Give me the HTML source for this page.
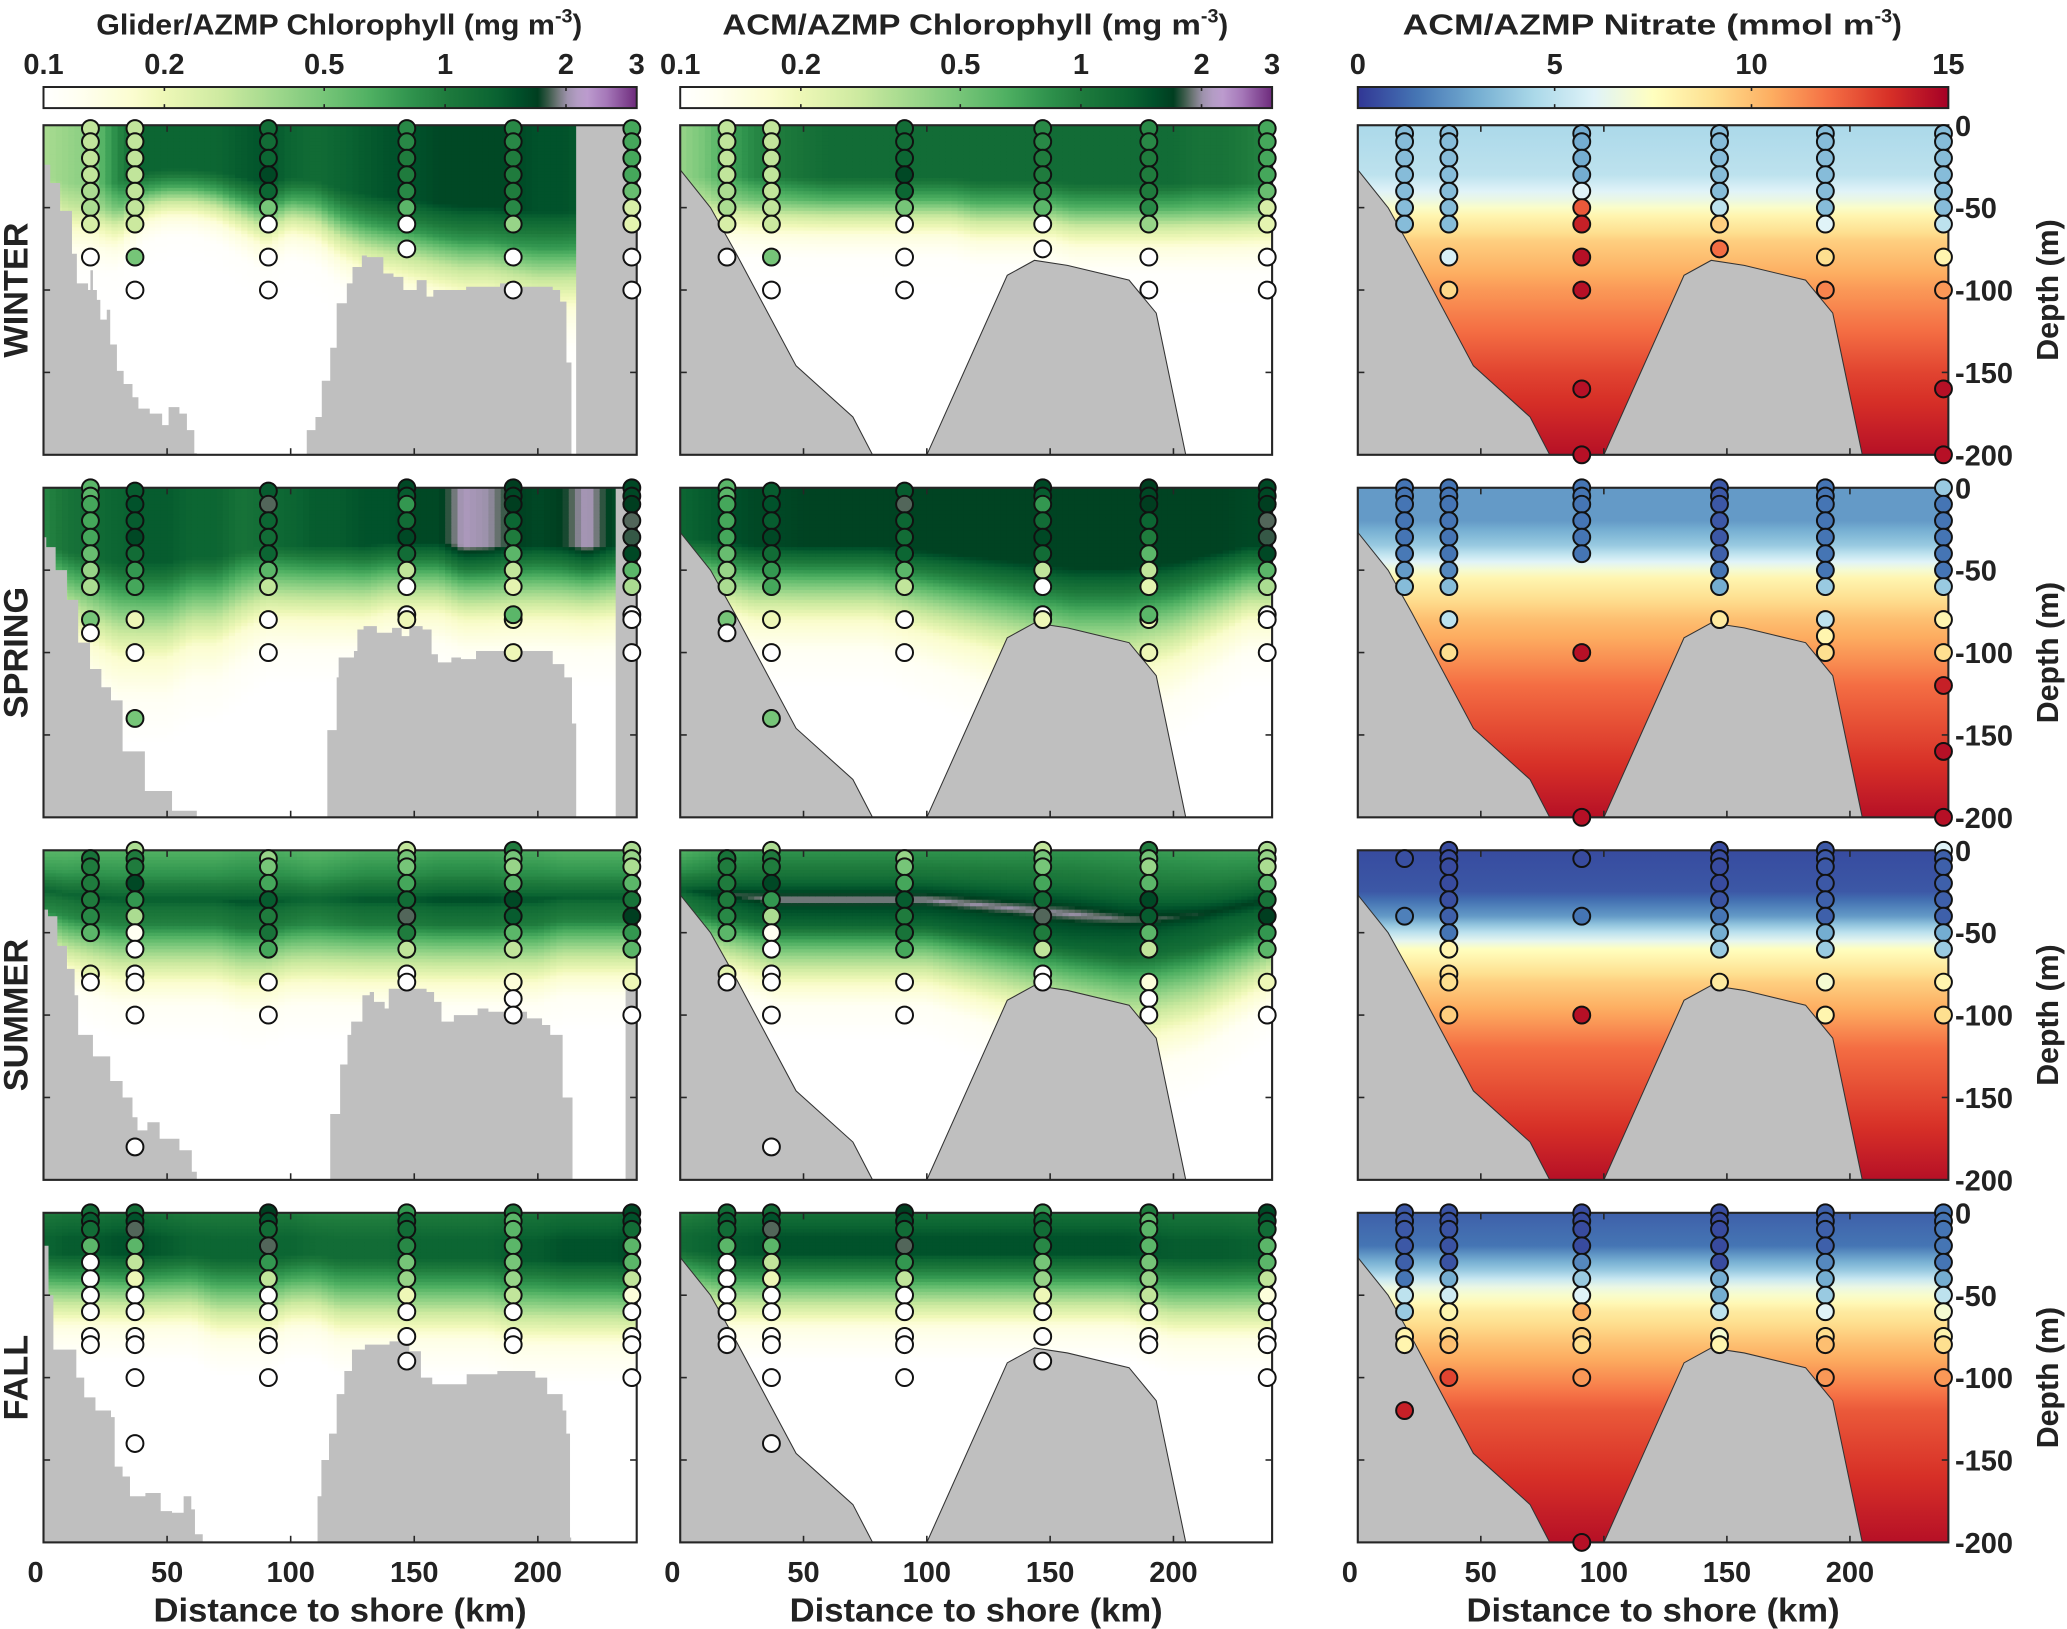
<!DOCTYPE html>
<html><head><meta charset="utf-8"><title>Chlorophyll and Nitrate sections</title>
<style>
html,body{margin:0;padding:0;background:#fff;}
svg{display:block;font-family:"Liberation Sans",Arial,sans-serif;font-weight:bold;fill:#222;}
</style></head>
<body>
<svg id="fig" width="2067" height="1629" viewBox="0 0 1568 1235.7" preserveAspectRatio="none" xmlns="http://www.w3.org/2000/svg">
<defs id="defs"></defs>
<g id="root"></g>
</svg>
<script>
// ---------------- data ----------------
const seasons = ["WINTER","SPRING","SUMMER","FALL"];
const stationKm = [19, 37, 91, 147, 190, 238];
const chlTicks = [0.1,0.2,0.5,1,2,3];
const chlTickLabels = ["0.1","0.2","0.5","1","2","3"];
const no3Ticks = [0,5,10,15];
const no3TickLabels = ["0","5","10","15"];
const xTicks = [0,50,100,150,200];
const xTickLabels = ["0","50","100","150","200"];
const depthTicks = [0,50,100,150,200];
const depthTickLabels = ["0","-50","-100","-150","-200"];
const fieldKm = [0,10,20,30,40,50,60,70,80,90,100,110,120,130,140,150,160,170,180,190,200,210,220,230,240];

// chlorophyll bottle samples [depth, value] per station
const chlWinter = [
 [[2,0.3],[10,0.3],[20,0.3],[30,0.3],[40,0.35],[50,0.35],[60,0.25],[80,0.1]],
 [[2,0.3],[10,0.3],[20,0.3],[30,0.3],[40,0.3],[50,0.3],[60,0.28],[80,0.5],[100,0.1]],
 [[2,1.2],[10,1.2],[20,1.3],[30,1.6],[40,1.3],[50,0.5],[60,0.1],[80,0.1],[100,0.1]],
 [[2,0.9],[10,0.9],[20,1.0],[30,1.0],[40,0.9],[50,0.6],[60,0.1],[75,0.1]],
 [[2,0.9],[10,0.9],[20,1.0],[30,1.0],[40,1.0],[50,0.9],[60,0.4],[80,0.1],[100,0.1]],
 [[2,0.7],[10,0.7],[20,0.7],[30,0.7],[40,0.55],[50,0.25],[60,0.22],[80,0.1],[100,0.1]]];
const chlSpring = [
 [[0,0.6],[5,0.6],[10,0.7],[20,0.7],[30,0.7],[40,0.55],[50,0.4],[60,0.35],[80,0.5],[88,0.1]],
 [[2,1.4],[10,1.5],[20,1.4],[30,1.6],[40,1.2],[50,0.8],[60,0.7],[80,0.2],[100,0.1],[140,0.5]],
 [[2,1.4],[10,1.85],[20,1.3],[30,1.2],[40,1.3],[50,0.6],[60,0.3],[80,0.1],[100,0.1]],
 [[0,1.6],[5,1.4],[10,0.8],[20,1.2],[30,1.6],[40,1.2],[50,0.3],[60,0.1],[77,0.1],[80,0.2]],
 [[0,1.7],[5,1.6],[10,1.7],[20,1.3],[30,1.0],[40,0.6],[50,0.3],[60,0.22],[80,0.2],[77,0.6],[100,0.2]],
 [[0,1.6],[5,1.6],[10,1.7],[20,1.85],[30,1.8],[40,1.6],[50,0.6],[60,0.35],[77,0.1],[80,0.1],[100,0.1]]];
const chlSummer = [
 [[5,1.1],[10,1.0],[20,1.0],[30,1.0],[40,0.9],[50,0.6],[75,0.22],[80,0.1]],
 [[0,0.35],[5,1.0],[10,1.0],[20,1.6],[30,0.8],[40,0.35],[50,0.12],[60,0.1],[75,0.1],[80,0.1],[100,0.1],[180,0.1]],
 [[5,0.4],[10,0.5],[20,0.7],[30,1.4],[40,1.0],[50,1.1],[60,0.7],[80,0.1],[100,0.1]],
 [[0,0.3],[5,0.5],[10,0.5],[20,0.7],[30,1.2],[40,1.85],[50,1.0],[60,0.3],[75,0.1],[80,0.1]],
 [[0,1.0],[5,0.5],[10,0.4],[20,0.6],[30,1.6],[40,1.4],[50,0.6],[60,0.3],[80,0.15],[90,0.1],[100,0.1]],
 [[0,0.35],[5,0.4],[10,0.35],[20,0.6],[30,1.1],[40,1.7],[50,0.8],[60,0.6],[80,0.2],[100,0.1]]];
const chlFall = [
 [[0,1.2],[5,1.4],[10,1.2],[20,0.6],[30,0.1],[40,0.1],[50,0.1],[60,0.1],[75,0.1],[80,0.1]],
 [[0,1.2],[5,1.5],[10,1.85],[20,0.6],[30,0.3],[40,0.2],[50,0.1],[60,0.1],[75,0.1],[80,0.1],[100,0.1],[140,0.1]],
 [[0,1.7],[5,1.5],[10,1.2],[20,1.85],[30,0.8],[40,0.3],[50,0.1],[60,0.1],[75,0.1],[80,0.1],[100,0.1]],
 [[0,0.8],[5,1.3],[10,1.2],[20,0.9],[30,0.5],[40,0.4],[50,0.2],[60,0.1],[75,0.1],[90,0.1]],
 [[0,1.0],[5,0.6],[10,0.6],[20,0.6],[30,0.5],[40,0.4],[50,0.3],[60,0.1],[75,0.1],[80,0.1]],
 [[0,1.6],[5,1.5],[10,1.2],[20,0.6],[30,0.6],[40,0.3],[50,0.15],[60,0.1],[75,0.1],[80,0.1],[100,0.1]]];

// nitrate bottle samples
const no3Winter = [
 [[5,3.5],[10,3.5],[20,3.5],[30,3.5],[40,3.5],[50,3.5],[60,3.5]],
 [[5,3.5],[10,3.5],[20,3.5],[30,3.5],[40,3.5],[50,3.5],[60,3.5],[80,5.8],[100,9.2]],
 [[5,3],[10,3],[20,3],[30,3],[40,6],[50,12.5],[60,14],[80,14.5],[100,14.5],[160,14.5],[200,14.5]],
 [[5,3.5],[10,3.5],[20,3.5],[30,3.5],[40,3.5],[50,5],[60,9.5],[75,12]],
 [[5,3.5],[10,3.5],[20,3.5],[30,3.5],[40,3.5],[50,3.5],[60,6],[80,9],[100,11.5]],
 [[5,3.5],[10,3.5],[20,3.5],[30,3.5],[40,3.5],[50,3.5],[60,5],[80,8],[100,11],[160,14.5],[200,14.5]]];
const no3Spring = [
 [[0,1.5],[5,1.5],[10,1.5],[20,1.5],[30,1.5],[40,1.6],[50,2.5],[60,3.5]],
 [[0,1.5],[5,1.5],[10,1.5],[20,1.5],[30,1.5],[40,1.5],[50,2],[60,3.5],[80,5],[100,9]],
 [[0,1.5],[5,1.5],[10,1.5],[20,1.5],[30,1.5],[40,1.5],[100,14.5],[200,14.5]],
 [[0,0.8],[5,0.8],[10,0.8],[20,0.8],[30,0.8],[40,1],[50,1.5],[60,3],[80,8.5]],
 [[0,1.5],[5,1.5],[10,1.5],[20,1.5],[30,1.5],[40,1.5],[50,1.5],[60,4],[80,5],[90,8],[100,9]],
 [[0,4],[10,1.5],[20,1.5],[30,1.5],[40,1.5],[50,1.5],[60,4],[80,8],[100,9],[120,14],[160,14.5],[200,14.5]]];
const no3Summer = [
 [[5,0.6],[40,1.8]],
 [[0,0.5],[5,0.5],[10,0.5],[20,0.5],[30,0.6],[40,1],[50,1.5],[60,8],[75,9],[80,9],[100,9.5]],
 [[5,0.5],[40,1.5],[100,14.5]],
 [[0,0.5],[5,0.5],[10,0.5],[20,0.5],[30,0.7],[40,1.5],[50,3],[60,4],[80,8.5]],
 [[0,0.8],[5,0.8],[10,0.8],[20,0.8],[30,1],[40,1],[50,3],[60,4],[80,7],[100,8]],
 [[0,6],[5,1],[10,1],[20,1],[30,1],[40,1],[50,3],[60,4],[80,8],[100,9]]];
const no3Fall = [
 [[0,0.8],[5,0.8],[10,0.8],[20,0.8],[30,1],[40,1.5],[50,5],[60,4],[75,8],[80,8],[120,14]],
 [[0,0.7],[5,0.7],[10,0.7],[20,0.7],[30,0.7],[40,3],[50,5.5],[60,8],[75,9],[80,10],[100,13]],
 [[0,0.5],[5,0.5],[10,0.5],[20,0.5],[30,2],[40,4],[50,6],[60,10.5],[75,9.5],[80,9],[100,11],[200,14.5]],
 [[0,0.5],[5,0.5],[10,0.5],[20,0.5],[30,0.5],[40,3],[50,3],[60,5],[75,7],[80,8]],
 [[0,1],[5,1],[10,1],[20,1],[30,2],[40,3],[50,4],[60,6],[75,9],[80,10],[100,11]],
 [[0,1.5],[5,1.5],[10,1.5],[20,1.5],[30,1.5],[40,3],[50,5],[60,7],[75,8],[80,9],[100,11]]];

// field profiles (chlorophyll shape vs depth)
const shapeDepth = [[0,35,50,62,75,90,110],[0,35,50,65,80,100,120],[0,15,25,30,35,45,55,65,80,95,115],[0,15,25,40,55,70,90]];
const shapeVal = [[1,1,0.75,0.4,0.15,0.02,0],[1,1,0.75,0.45,0.2,0.05,0],[0.7,0.8,0.92,1,0.92,0.85,0.65,0.45,0.2,0.05,0],[0.9,1,1,0.75,0.4,0.12,0]];
// glider (column 1) amplitude and depth scale
const gliderAmp = [
 [0.35,0.4,0.45,0.9,1.3,1.3,1.3,1.3,1.4,1.5,1.3,1.2,1.3,1.4,1.5,1.5,1.6,1.6,1.6,1.6,1.5,1.5,1.4,1.4,1.4],
 [0.9,1.1,1.2,1.3,1.4,1.4,1.3,1.3,1.1,1.2,1.3,1.4,1.4,1.5,1.5,1.6,1.6,2.1,2.0,1.7,1.6,1.7,2.1,1.6,1.6],
 [1.3,1.3,1.4,1.4,1.4,1.4,1.4,1.4,1.5,1.5,1.4,1.3,1.4,1.5,1.5,1.5,1.6,1.6,1.6,1.5,1.5,1.4,1.4,1.4,1.4],
 [1.3,1.4,1.4,1.5,1.5,1.4,1.3,1.3,1.3,1.3,1.3,1.2,1.2,1.2,1.2,1.3,1.3,1.3,1.3,1.4,1.4,1.5,1.5,1.5,1.6]];
const gliderScale = [
 [0.9,1,1,1,0.8,0.75,0.75,0.8,0.9,1.0,0.9,0.95,1.1,1.2,1.25,1.3,1.35,1.4,1.4,1.45,1.5,1.5,1.5,1.5,1.5],
 [1.0,1.1,1.2,1.3,1.3,1.3,1.2,1.2,1.1,1.0,1.0,1.0,1.0,1.0,0.95,0.95,0.95,1.0,1.0,1.0,1.0,1.0,1.0,1.0,1.0],
 [0.8,0.9,0.95,1,1,1,1,1,1.05,1.05,1,1,1,1,1,1,1,1,1,1,1,0.95,0.95,0.95,0.95],
 [1,1,1,1,1,1,1,1.1,1.1,1.1,1,1,1.1,1.1,1.1,1.1,1.1,1.1,1.1,1.15,1.15,1.15,1.15,1.15,1.15]];
// ACM model (column 2)
const acmAmp = [
 [0.4,0.5,0.7,0.9,1.0,1.1,1.2,1.2,1.2,1.2,1.2,1.2,1.2,1.2,1.2,1.2,1.2,1.2,1.2,1.2,1.2,1.1,1.1,1.0,0.9],
 [1.3,1.4,1.5,1.6,1.6,1.65,1.65,1.65,1.65,1.65,1.65,1.65,1.65,1.65,1.65,1.65,1.65,1.65,1.65,1.65,1.65,1.65,1.65,1.6,1.6],
 [1.4,1.6,1.8,1.9,2.0,2.0,2.0,2.0,2.0,2.0,2.0,2.0,2.0,2.0,2.0,2.0,2.0,1.95,1.9,1.85,1.8,1.75,1.7,1.7,1.7],
 [1.2,1.3,1.4,1.45,1.5,1.5,1.5,1.5,1.5,1.5,1.5,1.5,1.5,1.5,1.5,1.5,1.5,1.5,1.5,1.45,1.4,1.4,1.4,1.35,1.35]];
const acmScale = [
 [0.9,0.9,0.9,0.9,0.9,0.9,0.9,0.9,0.9,0.9,0.9,0.9,0.95,0.95,0.95,0.95,1,1,1,1,1,1,1,1,1],
 [0.9,0.9,0.95,1,1,1,1,1,1,1.05,1.1,1.15,1.2,1.25,1.3,1.35,1.4,1.4,1.4,1.35,1.3,1.2,1.1,1,1],
 [0.8,0.85,0.9,0.95,1,1,1,1,1,1,1,1.05,1.1,1.15,1.2,1.25,1.3,1.35,1.4,1.4,1.35,1.3,1.2,1.1,1],
 [0.9,0.95,1,1,1,1,1,1,1,1,1,1,1,1,1,1,1,1,1,1.05,1.1,1.1,1.1,1.1,1.1]];
// nitrate field vertical profiles
const no3ProfDepth = [[0,30,45,55,70,100,150,200],[0,20,35,45,55,80,120,200],[0,25,40,50,60,80,120,200],[0,20,35,45,60,80,120,200]];
const no3ProfVal = [[4.5,5,6.5,8,9.5,11,13,14.5],[2.5,2.5,4,6,8,10,12,14.5],[0.5,0.8,2.5,5,7.5,9.5,12,14.5],[1,1.5,4,6.5,8.5,10,12.5,14.5]];

// bathymetry (km, depth)
const modelBathyA = [[0,27],[12.3,50],[22,76],[47,146],[70,177],[78,200]];
const modelBathyB = [[100,200],[132.6,91],[143.6,82],[157,85],[182,94],[193,114],[205,200]];
const gliderBathyLeft = [
 [[0,24],[2.7,35],[6.7,52],[11.5,78],[13.5,96],[18,100],[19,88],[20,100],[21.6,106],[23,118],[25.6,112],[27,133],[29.7,149],[32.4,157],[36,165],[38.4,172],[43,175],[48,182],[50.6,171],[55,175],[58,185],[61,199],[62,200]],
 [[0,30],[1.1,36],[4.9,50],[9.5,68],[14,94],[18.8,110],[23.4,121],[27.3,129],[32,160],[41,184],[52,196],[62,200]],
 [[0,36],[1.8,40],[5.6,58],[9.5,72],[12.6,88],[14,112],[20,125],[27,140],[32,150],[36,162],[38,170],[42,165],[47,175],[55,182],[60,195],[62,200]],
 [[0,20],[2,50],[4,83],[13.3,100],[16.5,112],[21,120],[27.3,124],[28.8,154],[32,160],[35,172],[41.2,170],[45.9,170],[47.4,181],[52,182],[56.7,172],[59.8,180],[61.3,195],[64.4,200]]];
const gliderBathyRight = [
 [[104.5,200],[106.5,185],[110,177],[112.6,155],[116,135],[118.6,108],[122.7,96],[125,86],[128.8,79],[130.8,80],[137.5,90],[141.6,92],[145.6,100],[151,94],[155,104],[157.7,100],[171,98],[184.7,96],[190,98],[206,100],[209,107],[211.6,144],[213.6,200]],
 [[110,200],[114.8,147],[118.6,115],[119.4,103],[125.6,99],[127,86],[129.5,84],[134.9,88],[141,85],[144.9,90],[148,84],[153.4,86],[157,101],[159.6,106],[165,103],[168.9,104],[175,99],[203,99],[206,107],[210.7,115],[213.8,143],[215.5,200]],
 [[113,200],[116,160],[120,130],[123,112],[124.5,104],[129,88],[132,86],[133.7,92],[138,96],[139.7,84],[149,84],[155,86],[158,92],[161,104],[166,100],[175.6,96],[180,98],[195.6,102],[201.7,106],[205,112],[210,150],[214,200]],
 [[107.8,200],[110.9,172],[112.4,150],[115.5,134],[118.6,110],[121.7,96],[124.8,83],[130,80],[140,78],[148,84],[152.7,100],[157.3,104],[168.2,104],[171.2,98],[183.6,96],[199,100],[203.8,110],[210,120],[211.5,134],[213,197],[213.5,200]]];
const gliderNoDataKm = [[215.5,0],[231.5,0],[235.5,78],[999,0]]; // [startKm, topDepth]

// ---------------- layout ----------------
const NS = "http://www.w3.org/2000/svg";
const root = document.getElementById("root");
const defs = document.getElementById("defs");
const cols = [{x0:33,x1:483},{x0:516,x1:965},{x0:1030,x1:1478}];
const rowTop = [95,370,645,920];
const PH = 250;
function mk(tag, attrs, parent){ const e=document.createElementNS(NS,tag); for(const k in attrs) e.setAttribute(k,attrs[k]); (parent||root).appendChild(e); return e; }
function xScale(c,km){ return cols[c].x0 + km/240*(cols[c].x1-cols[c].x0); }
function yScale(r,d){ return rowTop[r] + d*PH/200; }
function interp(xs,ys,x){ if(x<=xs[0]) return ys[0]; for(let i=1;i<xs.length;i++){ if(x<=xs[i]){ const t=(x-xs[i-1])/(xs[i]-xs[i-1]); return ys[i-1]+t*(ys[i]-ys[i-1]); } } return ys[ys.length-1]; }
function hex(h){ return [parseInt(h.substr(1,2),16),parseInt(h.substr(3,2),16),parseInt(h.substr(5,2),16)]; }
const chlStops = [[0,"#ffffff"],[0.06,"#fffff0"],[0.15,"#fbfdd0"],[0.2,"#eff8b8"],[0.3,"#cdeaa0"],[0.4,"#9bd68a"],[0.47,"#78c679"],[0.55,"#4fb062"],[0.62,"#2f934d"],[0.68,"#1e7a3c"],[0.76,"#0b6432"],[0.8,"#00502a"],[0.835,"#003d1f"],[0.86,"#5a6a60"],[0.88,"#9a90a8"],[0.91,"#c0a2d2"],[0.95,"#a577b8"],[1,"#6d2a7c"]];
const no3Stops = [[0,"#313695"],[0.1,"#4575b4"],[0.2,"#74add1"],[0.3,"#abd9e9"],[0.4,"#e0f3f8"],[0.5,"#ffffbf"],[0.6,"#fee090"],[0.7,"#fdae61"],[0.8,"#f46d43"],[0.9,"#d73027"],[1,"#a50026"]];
function cmap(stops,t){ t=Math.max(0,Math.min(1,t)); for(let i=1;i<stops.length;i++){ if(t<=stops[i][0]){ const a=hex(stops[i-1][1]),b=hex(stops[i][1]); const u=(t-stops[i-1][0])/(stops[i][0]-stops[i-1][0]); return "rgb("+a.map((v,k)=>Math.round(v+u*(b[k]-v))).join(",")+")"; } } return stops[stops.length-1][1]; }
function chlT(v){ return Math.log10(v/0.1)/Math.log10(30); }
function chlColor(v){ return cmap(chlStops, chlT(v)); }
function no3Color(v){ return cmap(no3Stops, v/15); }

// ---------------- titles & colorbars ----------------
function text(str,x,y,size,anchor,name,extra){ const t=mk("text",Object.assign({x:x,y:y,"font-size":size,"text-anchor":anchor||"middle",},extra||{})); t.textContent=str; return t; }
const titles = [["Glider/AZMP Chlorophyll (mg m","-3",")"],["ACM/AZMP Chlorophyll (mg m","-3",")"],["ACM/AZMP Nitrate (mmol m","-3",")"]];
const titleNames = ["glider-chlorophyll-title","acm-chlorophyll-title","acm-nitrate-title"];
const titleLens = [370,385,380];
const titleMain = [360,375,370];
titles.forEach((tt,c)=>{
  const cx=(cols[c].x0+cols[c].x1)/2;
  const t=mk("text",{x:cx-titleLens[c]/2,y:26,"font-size":22,"text-anchor":"start"});
  
  
  const s1=mk("tspan",{textLength:titleMain[c]-12,lengthAdjust:"spacingAndGlyphs"},t); s1.textContent=tt[0];
  const s2=mk("tspan",{dy:-9,"font-size":15},t); s2.textContent=tt[1];
  const s3=mk("tspan",{dy:9},t); s3.textContent=tt[2];
});
const cbY0=66, cbY1=82;
for(let c=0;c<3;c++){
  const g=mk("linearGradient",{id:"cb"+c,x1:0,x2:1,y1:0,y2:0},defs);
  for(let i=0;i<=60;i++){ const t=i/60; mk("stop",{offset:t,"stop-color":c<2?cmap(chlStops,t):cmap(no3Stops,t)},g); }
  const r=mk("rect",{x:cols[c].x0,y:cbY0,width:cols[c].x1-cols[c].x0,height:cbY1-cbY0,fill:"url(#cb"+c+")",stroke:"#222","stroke-width":1.5});
  
  
  const ticks = c<2?chlTicks:no3Ticks, labs = c<2?chlTickLabels:no3TickLabels;
  ticks.forEach((v,i)=>{
    const t = c<2?chlT(v):v/15;
    const x = cols[c].x0 + t*(cols[c].x1-cols[c].x0);
    if(i>0 && i<ticks.length-1){ mk("line",{x1:x,x2:x,y1:cbY0,y2:cbY0+3,stroke:"#222","stroke-width":1.2}); mk("line",{x1:x,x2:x,y1:cbY1,y2:cbY1-3,stroke:"#222","stroke-width":1.2}); }
    const lt=text(labs[i],x,56,22,"middle","colorbar-tick-label");
    
  });
}

// ---------------- panels ----------------
const chlData=[chlWinter,chlSpring,chlSummer,chlFall];
const no3Data=[no3Winter,no3Spring,no3Summer,no3Fall];
for(let r=0;r<4;r++){
  const top=rowTop[r];
  const rl=text(seasons[r],0,0,26,"middle","row-label",{transform:"translate(21,"+(top+PH/2)+") rotate(-90)"});
  
  for(let c=0;c<3;c++){
    const x0=cols[c].x0,x1=cols[c].x1;
    const g=mk("g",{});
    
    
    if(c<2){
      const amp = c==0?gliderAmp[r]:acmAmp[r], sc = c==0?gliderScale[r]:acmScale[r];
      const nx=96, ny=100, dk=240/nx, dd=200/ny;
      for(let i=0;i<nx;i++){
        const km=(i+0.5)*dk; const a=interp(fieldKm,amp,km), s=interp(fieldKm,sc,km);
        const xa=xScale(c,i*dk), xb=xScale(c,(i+1)*dk);
        let j=0;
        while(j<ny){
          const d=(j+0.5)*dd;
          const sh=interp(shapeDepth[r],shapeVal[r],d/s);
          if(sh<=0.001){ break; }
          const v=Math.pow(10,Math.log10(0.1)+sh*Math.log10(a/0.1));
          mk("rect",{x:xa.toFixed(2),y:yScale(r,j*dd).toFixed(2),width:(xb-xa+0.4).toFixed(2),height:(dd*1.25+0.4).toFixed(2),fill:chlColor(v)},g);
          j++;
        }
      }
    } else {
      const gr=mk("linearGradient",{id:"nf"+r,x1:0,x2:0,y1:0,y2:1},defs);
      for(let i=0;i<=40;i++){ const d=i*5; mk("stop",{offset:i/40,"stop-color":no3Color(interp(no3ProfDepth[r],no3ProfVal[r],d))},gr); }
      const fr=mk("rect",{x:x0,y:top,width:x1-x0,height:PH,fill:"url(#nf"+r+")"},g);
      
    }
    if(c==0){
      [gliderBathyLeft[r],gliderBathyRight[r]].forEach((arr,k)=>{
        let pts=[];
        if(k==0) pts.push([xScale(c,0),yScale(r,200)]);
        arr.forEach((p,i)=>{ pts.push([xScale(c,p[0]),yScale(r,p[1])]); if(i<arr.length-1) pts.push([xScale(c,arr[i+1][0]),yScale(r,p[1])]); });
        const p=mk("polygon",{points:pts.map(q=>q[0].toFixed(1)+","+q[1].toFixed(1)).join(" "),fill:"#bfbfbf"},g);
        
      });
      const nd=gliderNoDataKm[r];
      if(nd[0]<240){ const b=mk("rect",{x:xScale(c,nd[0]),y:yScale(r,nd[1]),width:x1-xScale(c,nd[0]),height:yScale(r,200)-yScale(r,nd[1]),fill:"#bfbfbf"},g);
         }
    } else {
      [modelBathyA,modelBathyB].forEach((arr,k)=>{
        let pts=arr.map(p=>[xScale(c,p[0]),yScale(r,p[1])]);
        if(k==0) pts=[[xScale(c,0),yScale(r,200)]].concat(pts);
        const p=mk("polygon",{points:pts.map(q=>q[0].toFixed(1)+","+q[1].toFixed(1)).join(" "),fill:"#bfbfbf",stroke:"#333","stroke-width":0.8},g);
        
      });
    }
    const fr=mk("rect",{x:x0,y:top,width:x1-x0,height:PH,fill:"none",stroke:"#262626","stroke-width":1.6},g);
    
    xTicks.slice(1).forEach(v=>{ const x=xScale(c,v); mk("line",{x1:x,x2:x,y1:top,y2:top+5,stroke:"#262626","stroke-width":1.2},g); mk("line",{x1:x,x2:x,y1:top+PH,y2:top+PH-5,stroke:"#262626","stroke-width":1.2},g); });
    depthTicks.slice(1,4).forEach(v=>{ const y=yScale(r,v); mk("line",{x1:x0,x2:x0+5,y1:y,y2:y,stroke:"#262626","stroke-width":1.2},g); mk("line",{x1:x1,x2:x1-5,y1:y,y2:y,stroke:"#262626","stroke-width":1.2},g); });
    const data = c<2?chlData[r]:no3Data[r];
    data.forEach((st,si)=>{
      st.forEach(p=>{
        const ci=mk("circle",{cx:xScale(c,stationKm[si]).toFixed(1),cy:yScale(r,p[0]).toFixed(1),r:6.4,fill:c<2?chlColor(p[1]):no3Color(p[1]),stroke:"#111","stroke-width":1.5},g);
        
        
      });
    });
    if(c==2){
      depthTicks.forEach((v,i)=>{ const t=text(depthTickLabels[i],1483,yScale(r,v)+8,22,"start","depth-tick-label");  });
      const dl=text("Depth (m)",0,0,23,"middle","depth-axis-title",{transform:"translate(1561,"+(top+PH/2)+") rotate(-90)"});
      
    }
    if(r==3){
      xTicks.forEach((v,i)=>{ const t=text(xTickLabels[i],xScale(c,v)-(v==0?6:0),1200,22,"middle","x-tick-label");  });
      const xt=text("Distance to shore (km)",(x0+x1)/2,1230,25,"middle","x-axis-title",{textLength:283,lengthAdjust:"spacingAndGlyphs"});
      
    }
  }
}
</script>
</body></html>
